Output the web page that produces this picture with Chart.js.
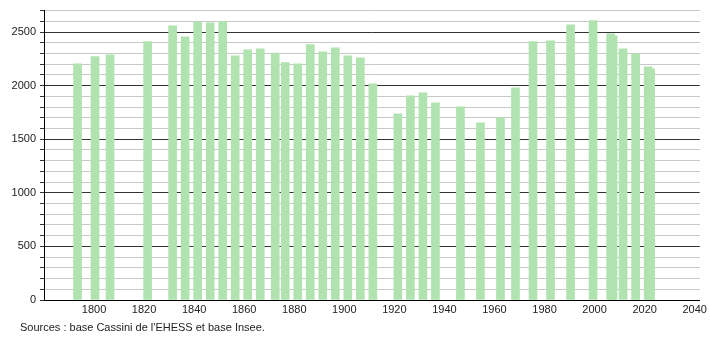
<!DOCTYPE html>
<html>
<head>
<meta charset="utf-8">
<script src="https://cdn.jsdelivr.net/npm/chart.js@4/dist/chart.umd.min.js"></script>
<style>
  html, body { margin: 0; padding: 0; background: #fff; }
  #wrap { position: relative; width: 710px; height: 340px; }
  #source {
    position: absolute; left: 20px; top: 321px;
    font: 11px "Liberation Sans", Arial, sans-serif; color: #222;
  }
</style>
</head>
<body>
<div id="wrap">
  <canvas id="chart" width="710" height="340"></canvas>
  <div id="source">Sources : base Cassini de l'EHESS et base Insee.</div>
</div>
<script>
'use strict';

// census years and population
const years = [1793, 1800, 1806, 1821, 1831, 1836, 1841, 1846, 1851, 1856,
  1861, 1866, 1872, 1876, 1881, 1886, 1891, 1896, 1901, 1906,
  1911, 1921, 1926, 1931, 1936, 1946, 1954, 1962, 1968, 1975,
  1982, 1990, 1999, 2006, 2007, 2011, 2016, 2021, 2022];
const population = [2204, 2270, 2288, 2410, 2559, 2456, 2596, 2587, 2600, 2279,
  2335, 2344, 2304, 2216, 2204, 2382, 2316, 2353, 2279, 2260,
  2017, 1737, 1905, 1933, 1840, 1803, 1653, 1700, 1980, 2410,
  2419, 2568, 2606, 2484, 2465, 2344, 2297, 2176, 2157];
const xTicks = [1800, 1820, 1840, 1860, 1880, 1900, 1920, 1940, 1960, 1980, 2000, 2020, 2040];

const font = { family: '"Liberation Sans", Arial, sans-serif', size: 11 };

// bars in the original sit about a pixel right of the year
const nudgeBars = {
  id: 'nudgeBars',
  beforeDatasetsDraw(chart) { chart.ctx.save(); chart.ctx.translate(1, 0); },
  afterDatasetsDraw(chart) { chart.ctx.restore(); }
};

var ctx = document.getElementById('chart').getContext('2d');
var chart = new Chart(ctx, {
  type: 'bar',
  data: {
    datasets: [{
      data: years.map((y, i) => ({ x: y, y: population[i] })),
      backgroundColor: 'rgb(176, 227, 176)',
      barThickness: 8,
      grouped: false
    }]
  },
  plugins: [nudgeBars],
  options: {
    responsive: false,
    animation: false,
    layout: { padding: { top: 10, right: 10, left: 0, bottom: 0 } },
    plugins: { legend: { display: false }, tooltip: { enabled: false } },
    scales: {
      x: {
        type: 'linear',
        min: 1780,
        max: 2042,
        offset: false,
        afterBuildTicks: s => { s.ticks = xTicks.map(v => ({ value: v })); },
        afterFit: s => { s.height = 40; },
        grid: { display: false, drawTicks: false },
        border: { color: '#000', width: 1 },
        ticks: {
          color: '#222', font: font, padding: 3, maxRotation: 0, autoSkip: false,
          callback: v => String(v)
        }
      },
      y: {
        min: 0,
        max: 2700,
        afterBuildTicks: s => {
          let t = [];
          for (let v = 0; v <= 2700; v += 100) t.push({ value: v });
          s.ticks = t;
        },
        afterFit: s => { s.width = 44; },
        grid: {
          color: c => (c.tick && c.tick.value % 500 === 0) ? '#333' : '#c8c8c8',
          tickColor: '#333',
          tickLength: 4,
          lineWidth: 1
        },
        border: { color: '#000', width: 1 },
        ticks: {
          color: '#222',
          font: font,
          padding: 4,
          autoSkip: false,
          callback: v => v % 500 === 0 ? String(v) : ''
        }
      }
    }
  }
});
</script>
</body>
</html>
